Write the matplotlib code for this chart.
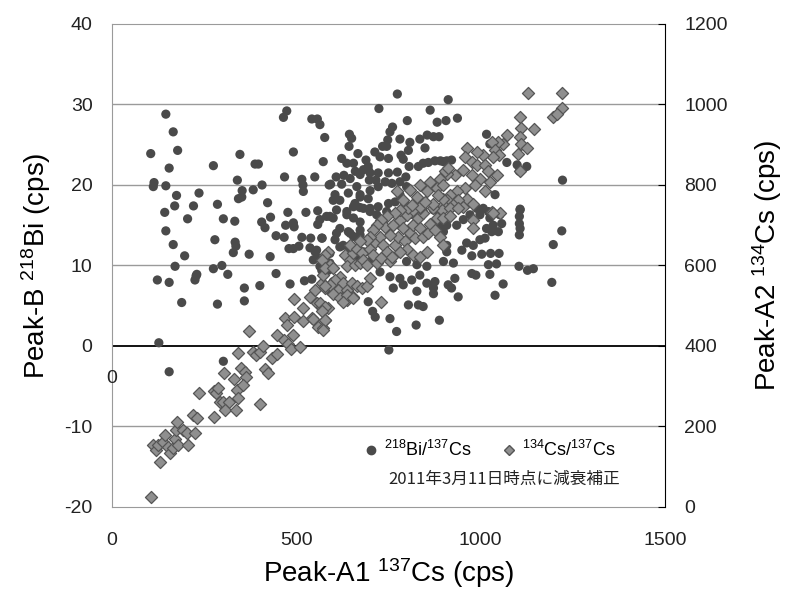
import matplotlib
matplotlib.use('Agg')
import matplotlib.pyplot as plt
from matplotlib.lines import Line2D

plt.rcParams['font.family'] = ['Liberation Sans', 'Noto Sans CJK JP', 'DejaVu Sans']
plt.rcParams['mathtext.default'] = 'regular'
plt.rcParams['axes.unicode_minus'] = False

# Peak-A1 137Cs (cps) vs Peak-B 218Bi (cps)  -- circles, left axis
bi_x = [146, 166, 105, 178, 155, 114, 112, 146, 275, 347, 388, 397, 340, 353, 343, 352, 383, 407, 175, 236,
        170, 221, 143, 205, 286, 302, 333, 422, 430, 406, 415, 146, 166, 197, 279, 334, 336, 329, 372, 429,
        445, 467, 477, 492, 494, 471, 526, 558, 558, 570, 539, 515, 480, 492, 507, 537, 551, 171, 230, 275,
        298, 314, 445, 474, 465, 542, 557, 564, 577, 492, 573, 468, 515, 518, 519, 550, 589, 123, 155, 225,
        228, 189, 286, 359, 359, 401, 483, 522, 542, 127, 155, 302,
        774, 724, 863, 912, 801, 882, 906, 761, 754, 644, 650, 781, 748, 835, 855, 872, 887, 643, 734, 713,
        808, 804, 849, 623, 637, 655, 667, 689, 695, 750, 784, 790, 806, 831, 844, 858, 876, 891, 908, 608,
        629, 646, 593, 623, 660, 673, 695, 722, 698, 716, 750, 774, 797, 741, 759, 781, 605, 600, 641, 673,
        700, 695, 722, 609, 637, 659, 673, 700, 722, 750, 768, 781, 799,
        937, 1016, 1071, 1099, 1125, 1105, 1222, 1039, 1107, 921, 899, 1007, 1021, 998,
        876, 872, 854, 827, 804, 831, 844, 695, 707, 714, 754, 825, 888, 772, 751, 605, 564, 582, 578, 587,
        569, 600, 609, 591, 582, 600, 637, 655, 682, 700, 673, 641, 618, 655, 673, 627, 646, 664, 682, 700,
        736, 763, 790, 817, 844, 872, 890, 772, 745, 718, 727, 754, 781, 763, 790, 813, 835, 854, 827, 799,
        899, 912,
        1107, 1105, 1105, 1107, 1105, 1220, 1197, 1104, 1127, 1143, 1193, 926, 930, 921, 939, 976, 987, 1025,
        1021, 1043, 1061, 1039, 976, 1003, 1027, 1050, 949, 962, 980, 998, 1012, 908, 908, 935, 953, 971,
        989, 1025, 1034, 1048, 1057, 1052, 1030, 1016, 899, 890, 908, 894,
        727, 745, 682, 700, 664, 673, 655, 618, 564, 591, 569, 609, 555, 591, 618, 646, 673, 546, 564, 591,
        872, 1025]
bi_y = [28.8, 26.6, 23.9, 24.3, 22.1, 20.3, 19.8, 19.9, 22.4, 23.8, 22.6, 22.6, 20.6, 19.3, 18.3, 18.5, 19.4, 20.0, 18.7, 19.0,
        17.4, 17.4, 16.6, 15.8, 17.6, 15.8, 15.5, 17.8, 16.0, 15.4, 14.7, 14.3, 12.6, 11.2, 13.2, 12.9, 12.4, 11.6, 11.4, 11.1,
        13.7, 13.5, 16.6, 15.3, 14.8, 15.0, 16.6, 16.8, 15.1, 13.4, 13.4, 13.5, 12.1, 12.1, 12.4, 12.2, 11.7, 9.9, 8.9, 9.6,
        10.0, 8.9, 9.0, 29.2, 28.4, 28.2, 28.2, 27.5, 25.9, 24.1, 22.9, 21.0, 20.7, 20.0, 19.2, 21.0, 20.0, 8.2, 7.9, 8.2,
        8.7, 5.4, 5.2, 7.2, 5.6, 7.5, 7.7, 8.1, 8.3, 0.4, -3.2, -1.9,
        31.3, 29.5, 29.3, 30.6, 28.0, 27.8, 28.0, 27.2, 26.6, 26.3, 25.8, 25.7, 25.6, 25.7, 26.2, 26.0, 26.0, 24.8, 24.8, 24.1,
        25.3, 24.3, 24.6, 23.3, 22.7, 22.7, 23.9, 23.1, 22.3, 23.3, 23.7, 23.2, 22.3, 22.3, 22.7, 22.8, 23.0, 23.0, 23.0, 21.0,
        21.2, 20.8, 20.1, 20.1, 21.7, 21.3, 21.9, 21.5, 20.6, 20.6, 21.5, 21.6, 21.0, 20.4, 20.2, 20.4, 18.8, 18.1, 19.0, 18.8,
        19.3, 18.3, 19.8, 16.9, 16.7, 17.7, 17.2, 17.1, 17.3, 17.7, 17.9, 18.8, 19.8,
        28.3, 26.3, 22.8, 22.5, 22.3, 21.7, 20.6, 18.8, 17.0, 23.1, 22.9, 17.1, 16.7, 16.3,
        8.0, 7.2, 7.8, 6.8, 5.1, 5.1, 4.9, 5.5, 4.3, 3.6, 3.4, 2.6, 3.2, 1.8, -0.5, 13.2, 10.9, 11.3, 10.1, 9.4,
        9.4, 8.0, 7.2, 6.8, 16.1, 15.9, 16.3, 15.9, 17.1, 16.7, 15.4, 14.2, 14.6, 13.6, 13.8, 12.5, 12.1, 11.1, 11.7, 10.5,
        15.2, 15.0, 15.9, 16.3, 16.7, 16.9, 16.5, 16.3, 16.7, 16.3, 9.2, 8.6, 8.4, 7.2, 7.6, 8.2, 8.8, 9.9, 10.1, 10.5,
        10.5, 7.6,
        16.9, 16.1, 15.2, 14.6, 13.8, 14.3, 12.6, 9.9, 9.4, 9.6, 7.9, 10.3, 8.4, 7.2, 6.1, 9.0, 8.8, 8.9,
        10.1, 10.2, 7.7, 6.3, 11.2, 11.4, 11.5, 11.5, 11.9, 12.8, 12.5, 13.2, 13.4, 12.5, 11.7, 15.0, 15.7, 16.3,
        17.1, 15.9, 15.0, 14.2, 15.2, 16.3, 14.2, 14.6, 14.2, 15.0, 15.0, 15.9,
        23.5, 24.8, 21.9, 21.5, 19.8, 18.5, 17.3, 18.1, 15.7, 16.1, 13.4, 14.0, 11.9, 11.5, 12.3, 14.0, 14.4, 10.7, 9.9, 10.3,
        6.5, 25.1]

# Peak-A1 137Cs (cps) vs Peak-A2 134Cs (cps)  -- diamonds, right axis
cs_x = [106, 130, 112, 119, 126, 139, 144, 153, 157, 166, 171, 174, 175, 180, 193, 203, 207, 225, 221, 231,
        237, 277, 277, 282, 288, 293, 302, 316, 307, 336, 304, 332, 338, 343, 341, 350, 361, 363, 356, 401,
        372, 383, 391, 401, 409, 415, 424, 433, 447, 447, 467, 478, 485, 492, 510, 469, 474, 494, 519, 519,
        542, 494, 537, 551, 555, 569, 560, 571, 578, 569, 571, 578, 546, 587, 618, 637, 655,
        1129, 1222, 1222, 1197, 1206, 1107, 1109, 1145, 1107, 1109, 1127, 1102, 1107, 1071, 1061, 1048, 1030, 1039, 1051, 1034,
        1007, 991, 962, 958, 976, 989, 1012, 1021, 1043, 1025, 998, 985, 1012, 976, 953, 930, 908, 958, 935, 917,
        962, 939, 980, 908, 899, 926, 953, 1030, 1052,
        587, 578, 569, 591, 578, 600, 618, 605, 591, 578, 627, 614, 637, 600, 618, 637, 655, 627, 650, 664,
        677, 691, 700, 730, 564, 578, 569, 578, 573,
        632, 646, 637, 659, 673, 655, 646, 664, 677, 682, 691, 700, 709, 714, 727, 736, 745, 718, 731, 754,
        759, 768, 777, 754, 741, 763, 781, 799, 790, 808, 795, 817, 831, 835, 822, 844, 858, 863, 876, 890,
        881, 894, 872, 844, 835, 817, 804, 781, 768, 745, 731, 718, 709, 700, 691, 673, 799, 817, 835, 854,
        781,
        917, 939, 899, 917, 980, 980, 1034, 899,
        772, 808, 835, 863, 890, 903, 912, 790, 827, 854, 881, 899, 835, 872, 899, 813, 849, 885]
cs_y = [24, 112, 154, 142, 154, 162, 178, 150, 134, 146, 170, 192, 210, 154, 192, 184, 154, 184, 228, 220,
        282, 224, 288, 282, 296, 260, 262, 262, 240, 240, 332, 318, 290, 272, 382, 346, 336, 322, 302, 256,
        438, 384, 378, 386, 400, 342, 332, 370, 380, 428, 414, 404, 392, 428, 398, 470, 452, 472, 494, 462,
        470, 516, 522, 540, 506, 498, 448, 444, 464, 556, 576, 544, 468, 494, 522, 514, 522,
        1028, 1028, 992, 970, 976, 968, 942, 940, 918, 902, 892, 878, 834, 924, 902, 908, 908, 886, 874, 870,
        874, 882, 892, 870, 858, 850, 850, 834, 824, 808, 816, 800, 784, 824, 838, 824, 828, 792, 784, 776,
        766, 762, 754, 762, 750, 750, 746, 734, 730,
        634, 626, 614, 602, 594, 594, 572, 564, 552, 548, 556, 540, 540, 530, 518, 526, 518, 510, 556, 548,
        544, 548, 568, 510, 506, 498, 486, 464, 440,
        626, 614, 598, 602, 606, 630, 650, 642, 630, 614, 602, 642, 626, 658, 672, 650, 634, 606, 618, 610,
        622, 650, 672, 676, 696, 700, 714, 726, 692, 680, 660, 700, 718, 692, 668, 672, 680, 704, 688, 672,
        718, 738, 742, 730, 742, 738, 742, 738, 730, 722, 714, 700, 688, 672, 664, 660, 642, 626, 622, 634,
        634,
        742, 742, 718, 722, 714, 692, 730, 650,
        784, 788, 800, 808, 816, 834, 842, 762, 770, 784, 792, 800, 746, 754, 766, 750, 758, 776]

left_ticks = [-20, -10, 0, 10, 20, 30, 40]
right_ticks = [0, 200, 400, 600, 800, 1000, 1200]
x_ticks = [0, 500, 1000, 1500]

fig = plt.figure(figsize=(7.85, 5.94), dpi=100)
ax = fig.add_axes([0.1427, 0.1465, 0.7044, 0.8131])

# grid lines
for v in left_ticks:
    if v == 0:
        ax.axhline(v, color='black', lw=1.3, zorder=1)
    elif v not in (-20, 40):
        ax.axhline(v, color='#9a9a9a', lw=1.0, zorder=1)

ax.scatter(bi_x, bi_y, s=44, marker='o', color='#4a4a4a', edgecolors='none', zorder=3)
ax.set_xlim(0, 1500)
ax.set_ylim(-20, 40)
ax.set_xticks(x_ticks)
ax.set_yticks(left_ticks)
for sp in ['left', 'bottom', 'top']:
    ax.spines[sp].set_color('#9a9a9a')
ax.spines['right'].set_visible(False)
ax.tick_params(axis='both', length=0, labelsize=14, colors='#222222')
ax.tick_params(axis='y', pad=14)
ax.tick_params(axis='x', pad=18)
ax.set_ylabel('Peak-B $^{218}$Bi (cps)', fontsize=20, labelpad=8)
ax.set_xlabel('Peak-A1 $^{137}$Cs (cps)', fontsize=20, labelpad=5)

ax2 = ax.twinx()
ax2.scatter(cs_x, cs_y, s=38, marker='D', color='#8f8f8f', edgecolors='#555555', linewidths=0.9, zorder=4)
ax2.set_ylim(0, 1200)
ax2.set_yticks(right_ticks)
for sp in ['left', 'bottom', 'top']:
    ax2.spines[sp].set_visible(False)
ax2.spines['right'].set_color('black')
ax2.tick_params(axis='y', direction='in', length=5, color='black', labelsize=14, pad=14, labelcolor='#222222')
ax2.set_ylabel('Peak-A2 $^{134}$Cs (cps)', fontsize=20, labelpad=16)

# stray label
ax.text(0, -4.0, '0', ha='center', va='center', fontsize=14, color='#222222')

handles = [Line2D([], [], marker='o', ls='none', color='#4a4a4a', markersize=6),
           Line2D([], [], marker='D', ls='none', markerfacecolor='#8f8f8f', markeredgecolor='#555555',
                  markersize=5)]
ax2.legend(handles, ['$^{218}$Bi/$^{137}$Cs', '$^{134}$Cs/$^{137}$Cs'], ncol=2, frameon=False,
           loc='center', bbox_to_anchor=(0.68, 0.118), fontsize=13, handletextpad=0.1,
           columnspacing=1.5, handlelength=1.2)
ax2.text(0.71, 0.057, '2011年3月11日時点に減衰補正', transform=ax2.transAxes, ha='center', va='center',
         fontsize=12, family=['Noto Sans CJK JP', 'DejaVu Sans'], color='#222222')

fig.savefig('out.png', dpi=100)
